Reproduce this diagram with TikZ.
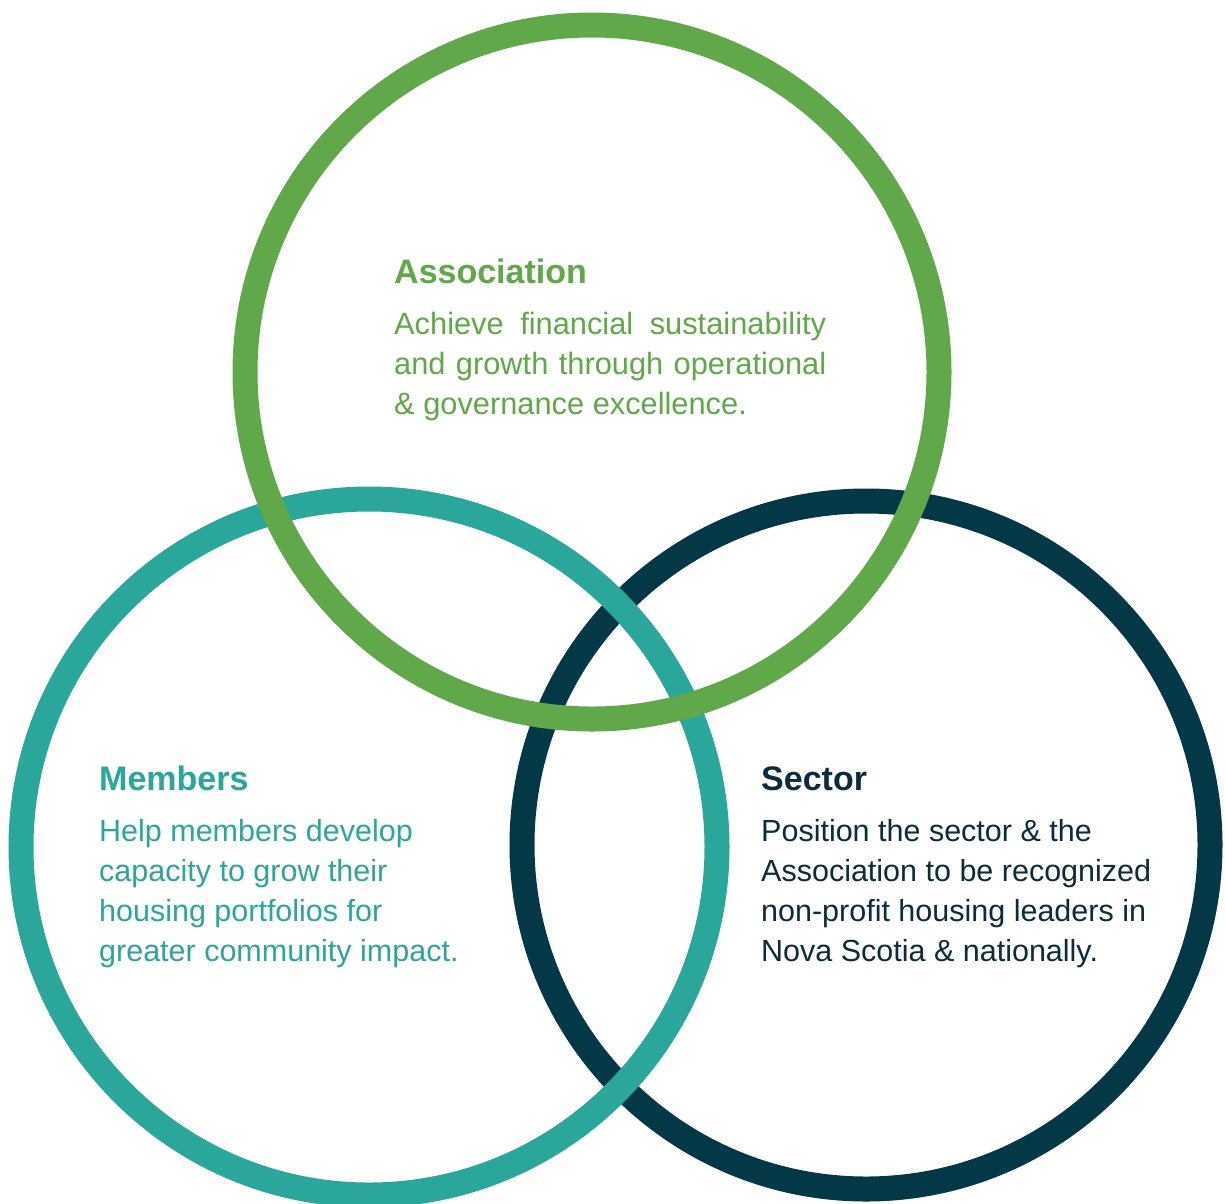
\documentclass[tikz,border=0pt]{standalone}
\usepackage{fontspec}
\setmainfont{Liberation Sans}
\definecolor{assocgreen}{RGB}{96,168,74}
\definecolor{memteal}{RGB}{42,166,155}
\definecolor{secnavy}{RGB}{5,56,70}
\definecolor{secText}{RGB}{12,44,60}
\tikzset{
  ring/.style={line width=25pt},
  headtxt/.style={anchor=base west, inner sep=0pt, font=\bfseries\fontsize{34}{40}\selectfont},
  bodytxt/.style={anchor=base west, inner sep=0pt, font=\fontsize{30.5}{40}\selectfont},
  abodytxt/.style={anchor=base west, inner sep=0pt, font=\fontsize{30.8}{40}\selectfont},
}
\begin{document}
\begin{tikzpicture}[x=1pt,y=-1pt]
\useasboundingbox (0,0) rectangle (1225,1203);
\fill[white] (0,0) rectangle (1225,1203);
% rings (navy bottom, teal, green on top)
\draw[ring, secnavy] (866,845) circle[radius=344];
\draw[ring, memteal] (369,847) circle[radius=348];
\draw[ring, assocgreen] (592,372) circle[radius=347];
% Association
\node[headtxt, text=assocgreen] (ahead) at (394,283) {Association};
\node[abodytxt, text=assocgreen] (a1) at (394,334) {\makebox[432pt][s]{Achieve financial sustainability}};
\node[abodytxt, text=assocgreen] (a2) at (394,374) {\makebox[432pt][s]{and growth through operational}};
\node[abodytxt, text=assocgreen] (a3) at (394,414) {\& governance excellence.};
% Members
\node[headtxt, text=memteal] (mhead) at (99,790) {Members};
\node[bodytxt, text=memteal] (m1) at (99,841) {Help members develop};
\node[bodytxt, text=memteal] (m2) at (99,881) {capacity to grow their};
\node[bodytxt, text=memteal] (m3) at (99,921) {housing portfolios for};
\node[bodytxt, text=memteal] (m4) at (99,961) {greater community impact.};
% Sector
\node[headtxt, text=secText] (shead) at (761,790) {Sector};
\node[bodytxt, text=secText] (s1) at (761,841) {Position the sector \& the};
\node[bodytxt, text=secText] (s2) at (761,881) {Association to be recognized};
\node[bodytxt, text=secText] (s3) at (761,921) {non-profit housing leaders in};
\node[bodytxt, text=secText] (s4) at (761,961) {Nova Scotia \& nationally.};
\end{tikzpicture}
\end{document}
